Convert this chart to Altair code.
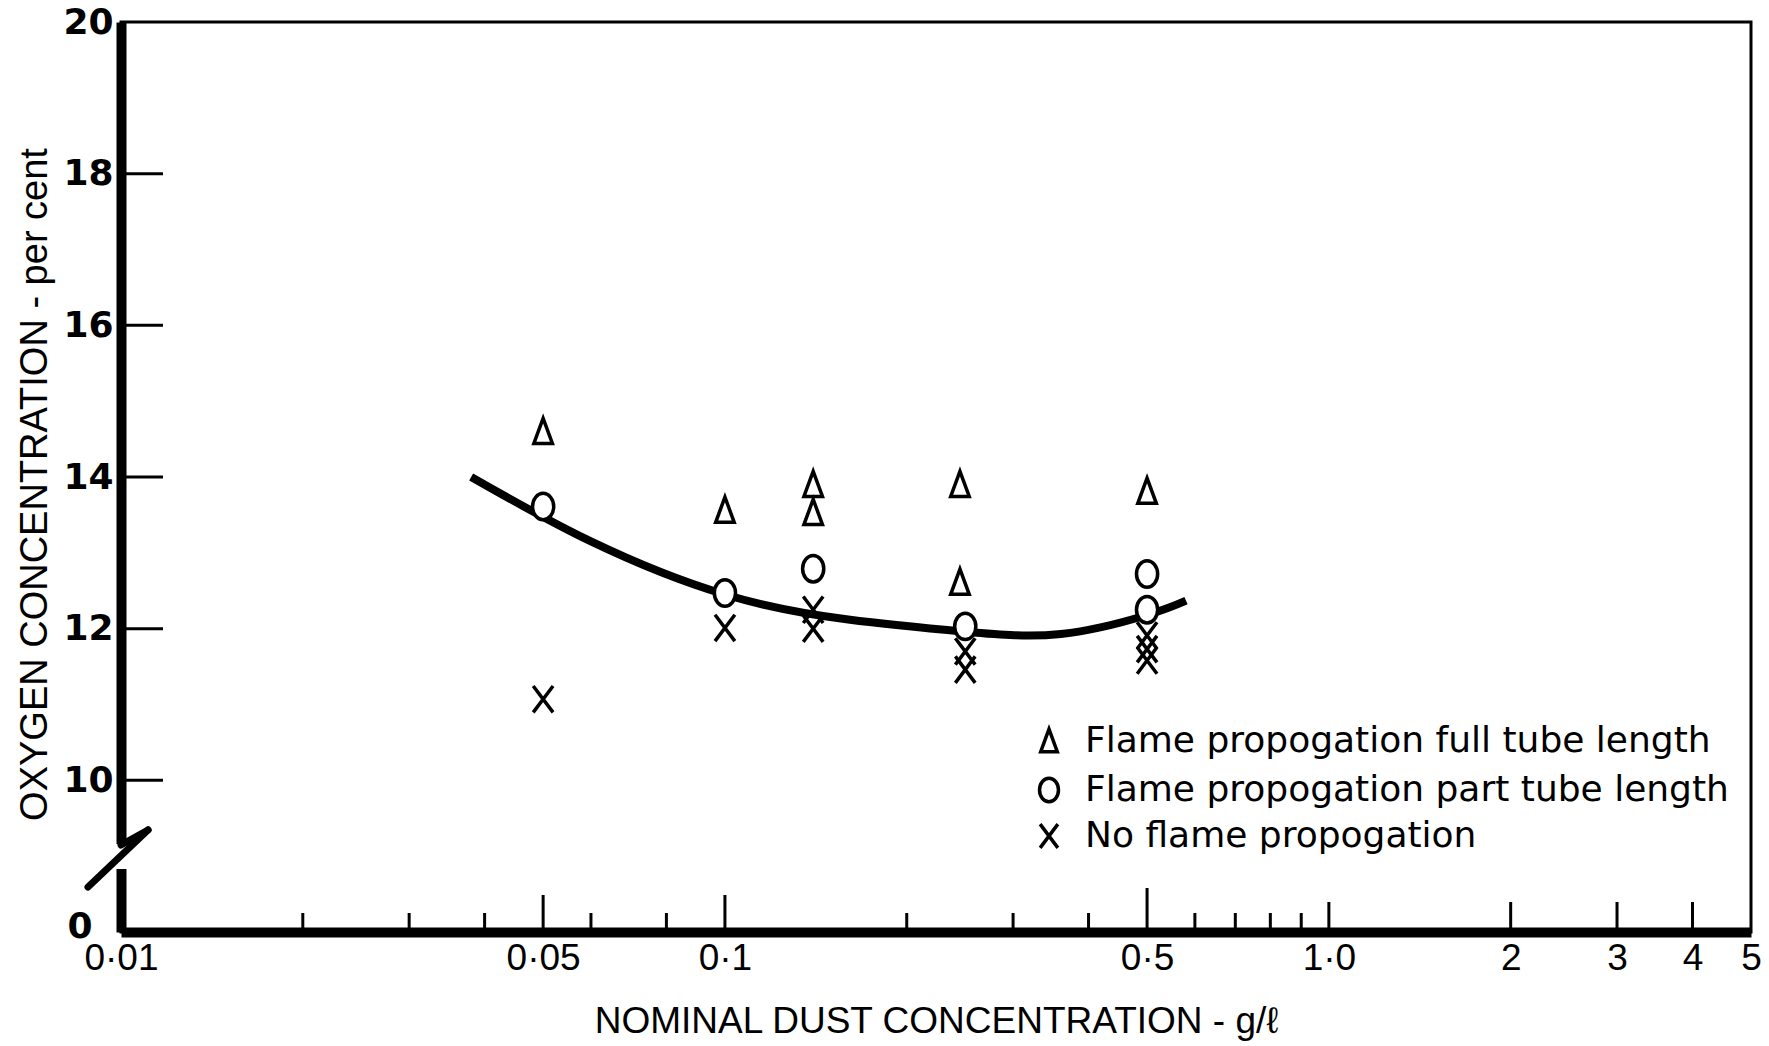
import altair as alt
import pandas as pd

# ---------------- data ----------------
series = [
    "Flame propogation full tube length",
    "Flame propogation part tube length",
    "No flame propogation",
]
full_x = [0.05, 0.1, 0.14, 0.14, 0.245, 0.245, 0.5]
full_y = [14.6, 13.56, 13.9, 13.53, 13.9, 12.61, 13.81]
part_x = [0.05, 0.1, 0.14, 0.25, 0.5, 0.5]
part_y = [13.61, 12.47, 12.79, 12.03, 12.72, 12.25]
none_x = [0.05, 0.1, 0.14, 0.14, 0.25, 0.25, 0.5, 0.5, 0.5]
none_y = [11.07, 12.01, 12.25, 12.0, 11.7, 11.46, 11.91, 11.73, 11.58]

curve_x = [0.038, 0.06, 0.1, 0.16, 0.25, 0.36, 0.5, 0.58]
curve_y = [14.0, 13.15, 12.45, 12.12, 11.96, 11.93, 12.18, 12.37]

x_label_values = [0.01, 0.05, 0.1, 0.5, 1, 2, 3, 4, 5]
x_label_texts = ["0·01", "0·05", "0·1", "0·5", "1·0", "2", "3", "4", "5"]
y_label_values = [10, 12, 14, 16, 18, 20]
y_break_value = [8]
y_break_label = ["0"]
y_inner_ticks = [10, 12, 14, 16, 18]

x_ticks_short = [0.02, 0.03, 0.04, 0.06, 0.08, 0.2, 0.3, 0.4, 0.6, 0.7, 0.8, 0.9]
x_ticks_medium = [1, 2, 3, 4]
x_ticks_long = [0.05, 0.1]
x_ticks_longest = [0.5]

# ---------------- layout ----------------
W, H = 1630, 910


def label_expr(values, texts):
    expr = "datum.label"
    for v, t in reversed(list(zip(values, texts))):
        expr = f"datum.value == {v} ? '{t}' : ({expr})"
    return expr


points = pd.DataFrame(
    {
        "x": full_x + part_x + none_x,
        "y": full_y + part_y + none_y,
        "type": [series[0]] * len(full_x)
        + [series[1]] * len(part_x)
        + [series[2]] * len(none_x),
    }
)
curve = pd.DataFrame({"x": curve_x, "y": curve_y})

x_scale = alt.Scale(type="log", domain=[0.01, 5], nice=False)
y_scale = alt.Scale(domain=[8, 20], nice=False, zero=False)

x_axis = alt.Axis(
    values=x_label_values,
    labelExpr=label_expr(x_label_values, x_label_texts),
    ticks=False,
    grid=False,
    domainWidth=10,
    domainColor="black",
    labelFont="Liberation Sans",
    labelFontSize=37,
    labelColor="black",
    labelPadding=8,
    labelFlush=False,
    labelOverlap=False,
    title="NOMINAL DUST CONCENTRATION - g/ℓ",
    titleFont="Liberation Sans",
    titleFontSize=37,
    titleFontWeight="normal",
    titleColor="black",
    titleX=W / 2,
    titleY=89,
    titleAlign="center",
    titleBaseline="middle",
)
y_axis = alt.Axis(
    values=y_label_values,
    format="d",
    ticks=False,
    grid=False,
    domainWidth=10,
    domainColor="black",
    labelFont="DejaVu Sans",
    labelFontWeight="bold",
    labelFontSize=36,
    labelColor="black",
    labelPadding=8,
    labelFlush=False,
    labelOverlap=False,
    title="OXYGEN CONCENTRATION - per cent",
    titleFont="Liberation Sans",
    titleFontSize=38,
    titleFontWeight="normal",
    titleColor="black",
    titleX=-86,
    titleY=462,
    titleAngle=270,
    titleAlign="center",
    titleBaseline="middle",
)

line = (
    alt.Chart(curve)
    .mark_line(color="black", strokeWidth=8, interpolate="natural")
    .encode(
        x=alt.X("x:Q", scale=x_scale, axis=x_axis),
        y=alt.Y("y:Q", scale=y_scale, axis=y_axis),
    )
)

tri = "M0,-1L0.7,0.9L-0.7,0.9Z"
ell = "M0.8,0A0.8,1,0,1,1,-0.8,0A0.8,1,0,1,1,0.8,0Z"
cross = "M-0.75,-1L0.75,1M0.75,-1L-0.75,1"
shapes = [tri, ell, cross]

pts = (
    alt.Chart(points)
    .mark_point(filled=True, fill="white", stroke="black", strokeWidth=3.5, size=700, opacity=1)
    .encode(
        x=alt.X("x:Q", scale=x_scale),
        y=alt.Y("y:Q", scale=y_scale),
        shape=alt.Shape("type:N", scale=alt.Scale(domain=series, range=shapes), legend=None),
    )
)

# legend drawn inside the plot, one row per series
legend_layers = []
row_y = [719, 768, 814]
for name, shp, ry in zip(series, shapes, row_y):
    row = pd.DataFrame({"t": [name]})
    legend_layers.append(
        alt.Chart(row)
        .mark_point(shape=shp, filled=True, fill="white", stroke="black",
                    strokeWidth=3.5, size=560, opacity=1)
        .encode(x=alt.value(928), y=alt.value(ry))
    )
    legend_layers.append(
        alt.Chart(row)
        .mark_text(font="DejaVu Sans", fontSize=36, color="black",
                   align="left", baseline="middle")
        .encode(x=alt.value(964), y=alt.value(ry), text="t:N")
    )

y_ticks = (
    alt.Chart(pd.DataFrame({"y": y_inner_ticks}))
    .mark_rule(color="black", strokeWidth=3)
    .encode(y=alt.Y("y:Q", scale=y_scale), x=alt.value(0), x2=alt.value(42))
)

zero_label = (
    alt.Chart(pd.DataFrame({"y": y_break_value, "t": y_break_label}))
    .mark_text(font="DejaVu Sans", fontWeight="bold", fontSize=36, color="black",
               align="center", baseline="middle", dy=-5)
    .encode(y=alt.Y("y:Q", scale=y_scale), x=alt.value(-41), text="t:N")
)


def x_tick_layer(vals, length):
    return (
        alt.Chart(pd.DataFrame({"x": vals}))
        .mark_rule(color="black", strokeWidth=3)
        .encode(x=alt.X("x:Q", scale=x_scale), y=alt.value(H), y2=alt.value(H - length))
    )


one = pd.DataFrame({"a": [0]})
gap = alt.Chart(one).mark_rule(color="white", strokeWidth=16).encode(
    x=alt.value(0), y=alt.value(822), y2=alt.value(847)
)
seg1 = alt.Chart(one).mark_rule(color="black", strokeWidth=7, strokeCap="round").encode(
    x=alt.value(0), y=alt.value(823), x2=alt.value(27), y2=alt.value(808)
)
seg2 = alt.Chart(one).mark_rule(color="black", strokeWidth=7, strokeCap="round").encode(
    x=alt.value(27), y=alt.value(808), x2=alt.value(-33), y2=alt.value(865)
)

chart = (
    alt.layer(
        line,
        y_ticks,
        x_tick_layer(x_ticks_short, 19),
        x_tick_layer(x_ticks_medium, 30),
        x_tick_layer(x_ticks_long, 37),
        x_tick_layer(x_ticks_longest, 44),
        pts,
        zero_label,
        gap,
        seg1,
        seg2,
        *legend_layers,
    )
    .properties(
        width=W,
        height=H,
        autosize=alt.AutoSizeParams(type="none"),
        padding={"left": 121, "top": 22, "right": 18, "bottom": 114},
        background="white",
    )
    .configure_view(stroke="black", strokeWidth=3)
)

chart.save("out.html", embed_options={"renderer": "svg", "actions": False})
